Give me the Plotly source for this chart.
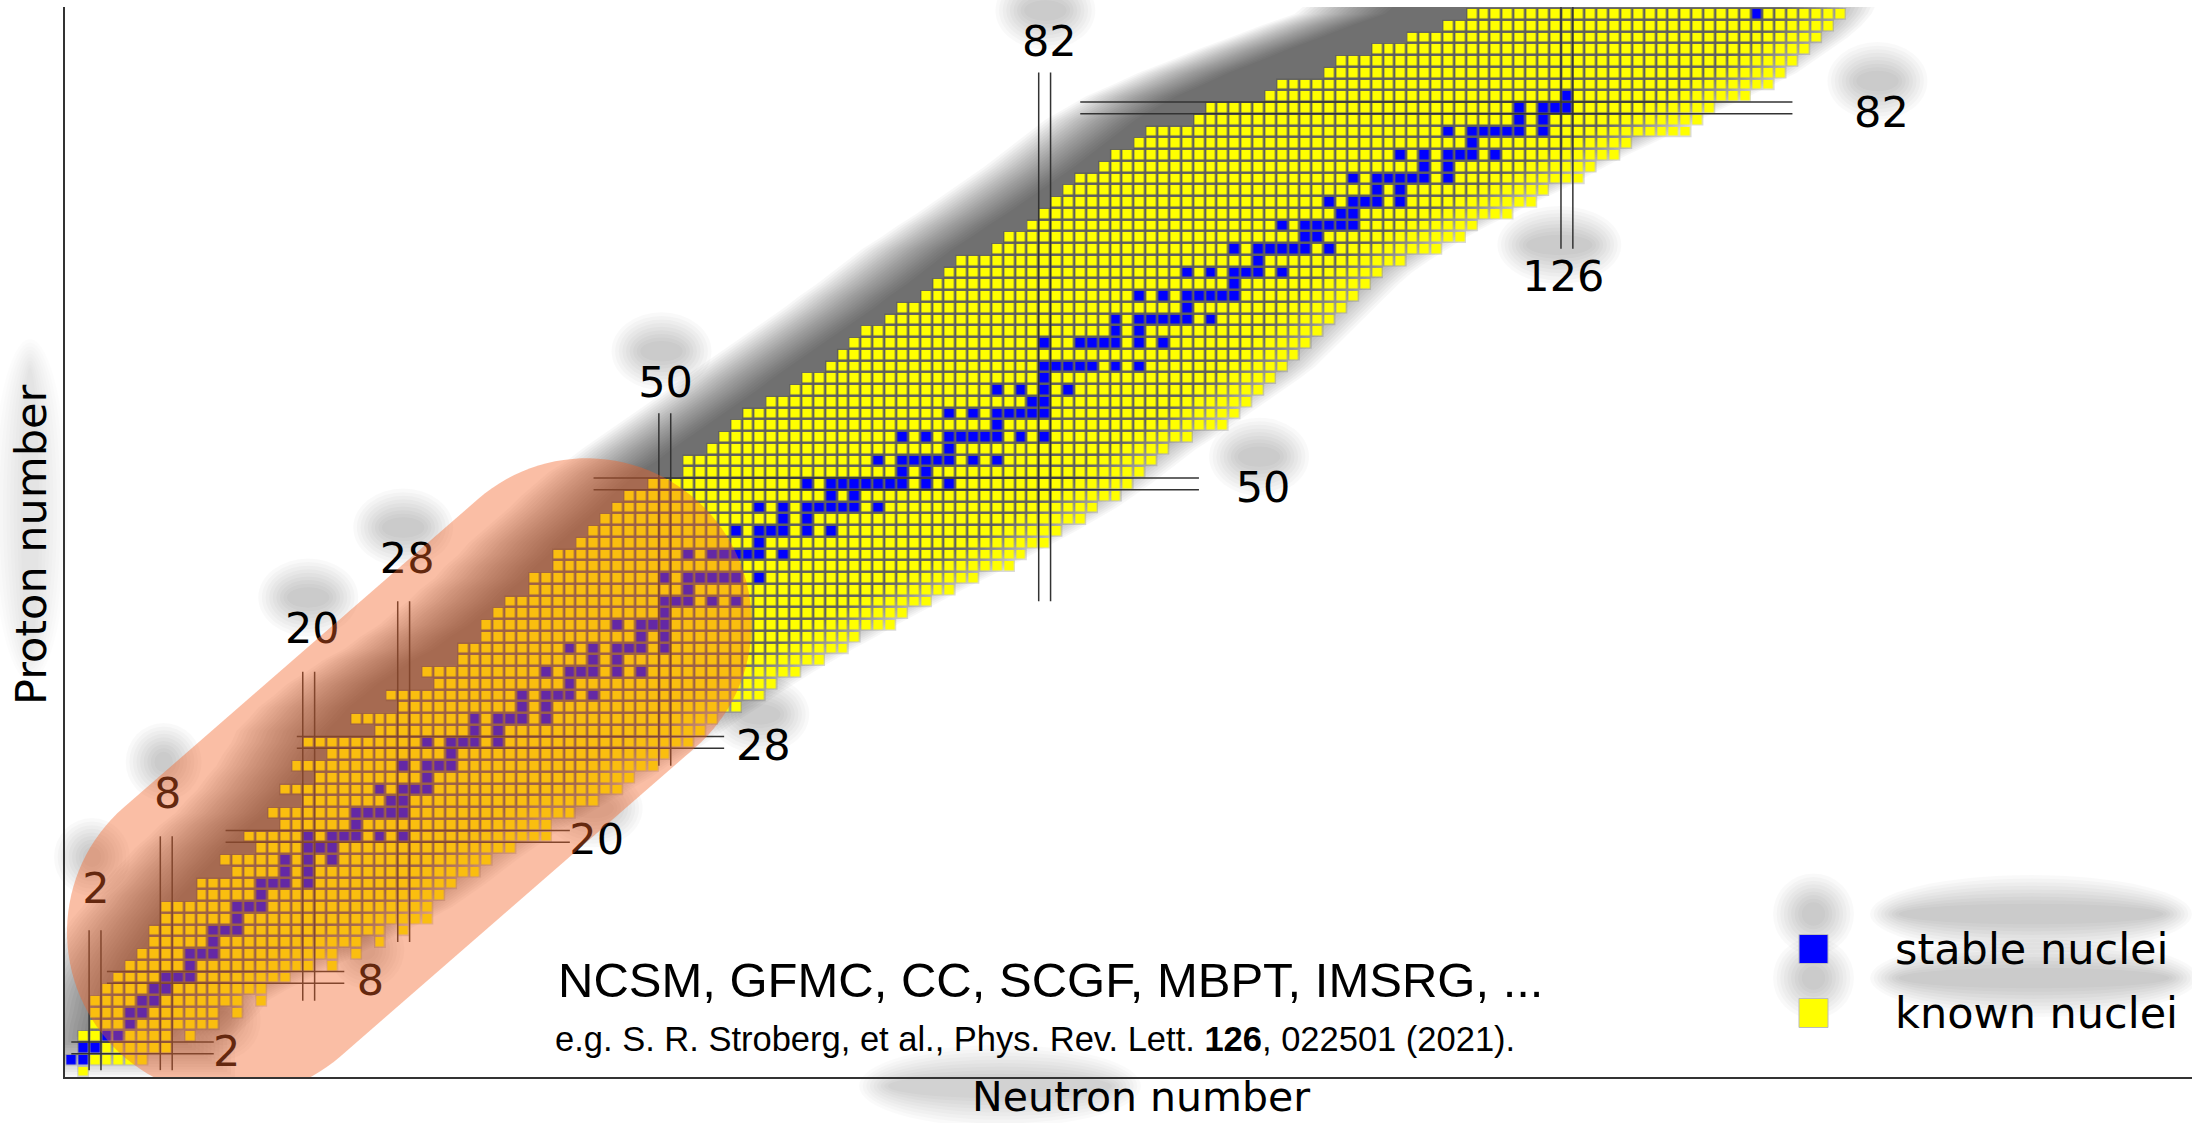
import math
import plotly.graph_objects as go

# ---------------- data ----------------
proton_numbers = list(range(0, 91))

# lightest / heaviest known neutron number for every proton number Z = 0..90
n_min = [1, 0, 1, 1, 2, 2, 2, 3, 4, 5,
         6, 7, 7, 8, 8, 11, 11, 14, 13, 16,
         15, 18, 17, 20, 18, 21, 19, 22, 20, 26,
         24, 28, 27, 31, 30, 33, 33, 35, 35, 36,
         37, 39, 39, 41, 41, 43, 44, 45, 46, 47,
         49, 52, 52, 54, 55, 56, 57, 59, 61, 62,
         64, 65, 66, 67, 69, 70, 72, 73, 74, 75,
         78, 79, 81, 82, 83, 84, 85, 87, 88, 90,
         91, 95, 96, 101, 102, 106, 107, 110, 113, 116,
         118]
n_max = [1, 6, 8, 10, 12, 14, 16, 16, 18, 22,
         24, 26, 28, 30, 30, 31, 32, 34, 35, 37,
         40, 40, 42, 44, 46, 47, 49, 50, 52, 53,
         54, 56, 58, 59, 61, 63, 65, 66, 69, 70,
         72, 74, 76, 79, 80, 82, 83, 85, 86, 88,
         89, 90, 91, 92, 94, 97, 98, 99, 100, 101,
         102, 103, 104, 105, 106, 107, 108, 109, 110, 112,
         115, 117, 118, 121, 123, 124, 127, 128, 130, 131,
         136, 137, 138, 141, 143, 144, 145, 146, 147, 148,
         149]
# (Z, N) holes inside the known ranges
unobserved_inside = [(3, 9), (5, 13), (6, 15), (9, 21), (10, 23), (11, 25), (12, 27)]

# stable (primordial) nuclei: mass numbers per Z
stable_mass_numbers = [
    [], [1, 2], [3, 4], [6, 7], [9], [10, 11], [12, 13], [14, 15], [16, 17, 18], [19],
    [20, 21, 22], [23], [24, 25, 26], [27], [28, 29, 30], [31], [32, 33, 34, 36], [35, 37],
    [36, 38, 40], [39, 40, 41], [40, 42, 43, 44, 46, 48], [45], [46, 47, 48, 49, 50],
    [50, 51], [50, 52, 53, 54], [55], [54, 56, 57, 58], [59], [58, 60, 61, 62, 64],
    [63, 65], [64, 66, 67, 68, 70], [69, 71], [70, 72, 73, 74, 76], [75],
    [74, 76, 77, 78, 80, 82], [79, 81], [78, 80, 82, 83, 84, 86], [85, 87],
    [84, 86, 87, 88], [89], [90, 91, 92, 94, 96], [93], [92, 94, 95, 96, 97, 98, 100],
    [], [96, 98, 99, 100, 101, 102, 104], [103], [102, 104, 105, 106, 108, 110],
    [107, 109], [106, 108, 110, 111, 112, 113, 114, 116], [113, 115],
    [112, 114, 115, 116, 117, 118, 119, 120, 122, 124], [121, 123],
    [120, 122, 123, 124, 125, 126, 128, 130], [127],
    [124, 126, 128, 129, 130, 131, 132, 134, 136], [133],
    [130, 132, 134, 135, 136, 137, 138], [138, 139], [136, 138, 140, 142], [141],
    [142, 143, 144, 145, 146, 148, 150], [], [144, 147, 148, 149, 150, 152, 154],
    [151, 153], [152, 154, 155, 156, 157, 158, 160], [159],
    [156, 158, 160, 161, 162, 163, 164], [165], [162, 164, 166, 167, 168, 170], [169],
    [168, 170, 171, 172, 173, 174, 176], [175, 176], [174, 176, 177, 178, 179, 180],
    [180, 181], [180, 182, 183, 184, 186], [185, 187],
    [184, 186, 187, 188, 189, 190, 192], [191, 193], [190, 192, 194, 195, 196, 198],
    [197], [196, 198, 199, 200, 201, 202, 204], [203, 205], [204, 206, 207, 208], [209],
    [], [], [], [], [], [], [232],
]

# magic numbers: double lines and labels
magic_n = [2, 8, 20, 28, 50, 82, 126]
magic_n_z_from = [0.1, 0.1, 6, 11, 26, 40, 70]
magic_n_z_to = [12, 20, 34, 40, 56, 85, 96]
magic_n_label_n = [2.08, 8.12, 20.3, 28.3, 50.06, 82.4, 125.7]
magic_n_label_z = [15.26, 23.35, 37.35, 43.3, 58.3, 87.3, 67.35]

magic_z = [2, 8, 20, 28, 50, 82]
magic_z_n_from = [0, 3, 13, 19, 44, 85]
magic_z_n_to = [12, 23, 42, 55, 95, 145]
magic_z_label_n = [13.1, 25.2, 44.26, 58.3, 100.4, 152.5]
magic_z_label_z = [1.33, 7.37, 19.4, 27.4, 49.33, 81.3]

# ---------------- geometry ----------------
W, H = 2192, 1123
ML, MR, MT, MB = 65, 0, 7, 46
PW, PH = W - ML - MR, H - MT - MB
PX_N, PX_Z = 11.87, 11.75
x_range = [-0.53, -0.53 + PW / PX_N]
y_range = [-0.485, -0.485 + PH / PX_Z]
NMAX = 150


def d2px(n, z):
    return ML + (n - x_range[0]) * PX_N, H - MB - (z - y_range[0]) * PX_Z


def px2paper(x, y):
    return (x - ML) / PW, (H - MB - y) / PH


def fmt(pts):
    return "M " + " L ".join(f"{a:.3f},{b:.3f}" for a, b in pts) + " Z"


# ---------------- cell grid ----------------
holes = set(unobserved_inside)
z_grid = [[None] * (NMAX + 1) for _ in proton_numbers]
for Z in proton_numbers:
    for N in range(n_min[Z], n_max[Z] + 1):
        if (Z, N) not in holes:
            z_grid[Z][N] = 1
    for A in stable_mass_numbers[Z]:
        z_grid[Z][A - Z] = 2

shapes = []


def smooth_bound(vals, use_min):
    n = len(vals)
    env = []
    for i in range(n):
        win = vals[max(0, i - 1):min(n, i + 2)]
        env.append(min(win) if use_min else max(win))
    out = []
    for i in range(n):
        win = env[max(0, i - 3):min(n, i + 4)]
        out.append(sum(win) / len(win))
    return out


left_b = smooth_bound([v - 0.5 for v in n_min], True)
right_b = smooth_bound([v + 0.5 for v in n_max], False)

# blurred drop shadow of the band (shifted upwards)
SHIFT_UP = 35.0
dz = SHIFT_UP / PX_Z
K = 24
for k in range(K):
    h = -3.3 + 7.6 * k / (K - 1)
    left, right = [], []
    for Z in proton_numbers:
        L = left_b[Z] - h
        R = right_b[Z] + h
        if L > R:
            L = R = (left_b[Z] + right_b[Z]) / 2
        left.append((L, Z + dz))
        right.append((R, Z + dz))
    left.append((left[-1][0] + 14, 90 + dz + 8))
    right.append((right[-1][0] + 12, 90 + dz + 8))
    yb = -0.5 + dz - 0.7 * h
    pts = [(left[0][0], yb)] + left + right[::-1] + [(right[0][0], yb)]
    shapes.append(dict(type="path", xref="x", yref="y", path=fmt(pts),
                       fillcolor="rgba(0,0,0,0.03)", line=dict(width=0), layer="below"))

# light grey underlay that shows as the cell borders
segs = []
for Z in proton_numbers:
    N = 0
    while N <= NMAX:
        if z_grid[Z][N] is not None:
            s = N
            while N + 1 <= NMAX and z_grid[Z][N + 1] is not None:
                N += 1
            segs.append(f"M {s-0.5},{Z-0.5} L {N+0.5},{Z-0.5} L {N+0.5},{Z+0.5} L {s-0.5},{Z+0.5} Z")
        N += 1
shapes.append(dict(type="path", xref="x", yref="y", path=" ".join(segs),
                   fillcolor="rgba(0,0,0,0.15)", line=dict(width=0), layer="below"))


def blob(cx, cy, w, h, layers=9, alpha=0.022, pad=26, step=3.6):
    out = []
    for j in range(layers):
        rx = max(4, w / 2 + pad - step * j)
        ry = max(4, h / 2 + pad - step * j)
        x0, y0 = px2paper(cx - rx, cy + ry)
        x1, y1 = px2paper(cx + rx, cy - ry)
        out.append(dict(type="circle", xref="paper", yref="paper", x0=x0, y0=y0, x1=x1, y1=y1,
                        fillcolor=f"rgba(0,0,0,{alpha})", line=dict(width=0), layer="below"))
    return out


# label shadows
for lab, n, z in list(zip(magic_n, magic_n_label_n, magic_n_label_z)) + \
        list(zip(magic_z, magic_z_label_n, magic_z_label_z)):
    cx, cy = d2px(n, z)
    shapes += blob(cx - 4, cy - SHIFT_UP, 24 * len(str(lab)), 26)

# legend geometry (pixels)
leg_sq_x = 1799
leg_sq = 29
leg_rows_y = [949, 1013]
leg_text_x = 1893
shapes += blob(leg_sq_x + leg_sq / 2, leg_rows_y[0] - SHIFT_UP, leg_sq, leg_sq)
shapes += blob(leg_sq_x + leg_sq / 2, leg_rows_y[1] - SHIFT_UP, leg_sq, leg_sq)
shapes += blob(leg_text_x + 138, leg_rows_y[0] - SHIFT_UP, 270, 26)
shapes += blob(leg_text_x + 141, leg_rows_y[1] - SHIFT_UP, 276, 26)
shapes += blob(1000, 1086, 230, 30, alpha=0.018)
shapes += blob(30, 545 - SHIFT_UP, 24, 290, alpha=0.012)

# magic-number double lines
LINE = dict(color="#333333", width=1.5)
for n, z0, z1 in zip(magic_n, magic_n_z_from, magic_n_z_to):
    for off in (-0.5, 0.5):
        shapes.append(dict(type="line", xref="x", yref="y", x0=n + off, x1=n + off,
                           y0=z0, y1=z1, line=LINE, layer="above"))
for z, n0, n1 in zip(magic_z, magic_z_n_from, magic_z_n_to):
    for off in (-0.5, 0.5):
        shapes.append(dict(type="line", xref="x", yref="y", x0=n0, x1=n1,
                           y0=z + off, y1=z + off, line=LINE, layer="above"))

# translucent pill highlighting the light nuclei
c1, c2, r_px = (13.54, 11.86), (43.42, 38.13), 165.0
p1 = (c1[0] * PX_N, c1[1] * PX_Z)
p2 = (c2[0] * PX_N, c2[1] * PX_Z)
th = math.atan2(p2[1] - p1[1], p2[0] - p1[0])
pill = []
for i in range(61):
    a = th - math.pi / 2 + math.pi * i / 60
    pill.append(((p2[0] + r_px * math.cos(a)) / PX_N, (p2[1] + r_px * math.sin(a)) / PX_Z))
for i in range(61):
    a = th + math.pi / 2 + math.pi * i / 60
    pill.append(((p1[0] + r_px * math.cos(a)) / PX_N, (p1[1] + r_px * math.sin(a)) / PX_Z))
shapes.append(dict(type="path", xref="x", yref="y", path=fmt(pill),
                   fillcolor="rgba(244,98,37,0.41)", line=dict(width=0), layer="above"))

# legend squares
for y, col in zip(leg_rows_y, ["#0000ff", "#ffff00"]):
    x0, y0 = px2paper(leg_sq_x, y + leg_sq / 2)
    x1, y1 = px2paper(leg_sq_x + leg_sq, y - leg_sq / 2)
    shapes.append(dict(type="rect", xref="paper", yref="paper", x0=x0, y0=y0, x1=x1, y1=y1,
                       fillcolor=col, line=dict(color="#bbbbbb", width=1), layer="above"))

# ---------------- traces ----------------
fig = go.Figure()
fig.add_trace(go.Heatmap(
    x=list(range(NMAX + 1)), y=proton_numbers, z=z_grid,
    zmin=1, zmax=2,
    colorscale=[[0, "#ffff00"], [0.5, "#ffff00"], [0.5, "#0000ff"], [1, "#0000ff"]],
    showscale=False, xgap=2.5, ygap=2.5, hoverinfo="skip",
))
fig.add_trace(go.Scatter(
    x=magic_n_label_n + magic_z_label_n,
    y=magic_n_label_z + magic_z_label_z,
    text=[str(v) for v in magic_n] + [str(v) for v in magic_z],
    mode="text", textposition="middle center",
    textfont=dict(family="DejaVu Sans", size=43, color="black"),
    hoverinfo="skip", showlegend=False, cliponaxis=False,
))

ann = []
for txt, y in zip(["stable nuclei", "known nuclei"], leg_rows_y):
    xp, yp = px2paper(leg_text_x, y)
    ann.append(dict(text=txt, x=xp, y=yp, xref="paper", yref="paper", xanchor="left",
                    yanchor="middle", showarrow=False,
                    font=dict(family="DejaVu Sans", size=43, color="black")))
xp, yp = px2paper(1141, 1097)
ann.append(dict(text="Neutron number", x=xp, y=yp, xref="paper", yref="paper",
                xanchor="center", yanchor="middle", showarrow=False,
                font=dict(family="DejaVu Sans", size=41, color="black")))
xp, yp = px2paper(31, 545)
ann.append(dict(text="Proton number", x=xp, y=yp, xref="paper", yref="paper",
                xanchor="center", yanchor="middle", showarrow=False, textangle=-90,
                font=dict(family="DejaVu Sans", size=43, color="black")))
xp, yp = px2paper(1050, 980)
ann.append(dict(text="NCSM, GFMC, CC, SCGF, MBPT, IMSRG, ...", x=xp, y=yp, xref="paper",
                yref="paper", xanchor="center", yanchor="middle", showarrow=False,
                font=dict(family="Liberation Sans", size=49, color="black")))
xp, yp = px2paper(1035, 1039)
ann.append(dict(text="e.g. S. R. Stroberg, et al., Phys. Rev. Lett. <b>126</b>, 022501 (2021).",
                x=xp, y=yp, xref="paper", yref="paper", xanchor="center", yanchor="middle",
                showarrow=False, font=dict(family="Liberation Sans", size=34.5, color="black")))

axis_common = dict(showgrid=False, zeroline=False, showticklabels=False, ticks="",
                   showline=True, linecolor="#333333", linewidth=2, mirror=False,
                   automargin=False, fixedrange=True)
fig.update_layout(
    width=W, height=H,
    margin=dict(l=ML, r=MR, t=MT, b=MB),
    paper_bgcolor="white", plot_bgcolor="rgba(0,0,0,0)",
    xaxis=dict(range=x_range, **axis_common),
    yaxis=dict(range=y_range, **axis_common),
    shapes=shapes, annotations=ann, showlegend=False,
)
fig.write_html("out.html")
